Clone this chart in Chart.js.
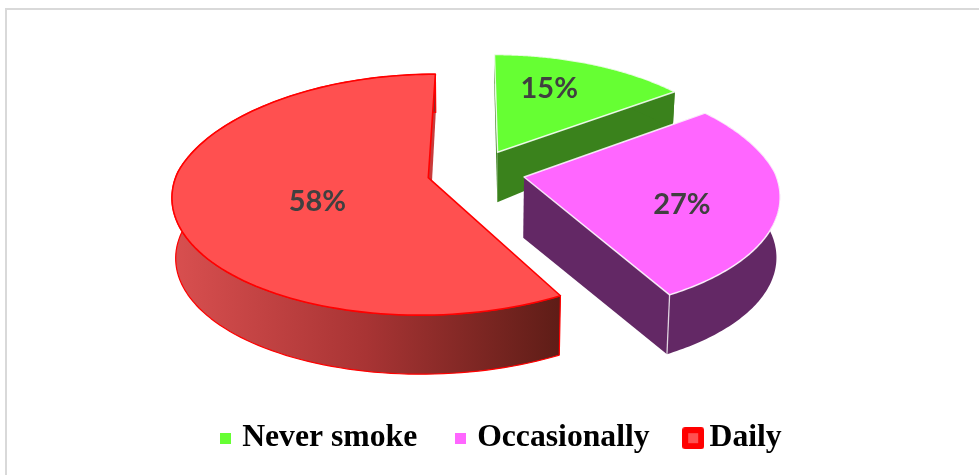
<!DOCTYPE html>
<html>
<head>
<meta charset="utf-8">
<style>
html,body{margin:0;padding:0;background:#fff;overflow:hidden}
#frame{position:absolute;left:5px;top:8px;right:0;bottom:0;border-left:2px solid #d9d9d9;border-top:2px solid #d9d9d9}
#wrap{position:absolute;left:0;top:0;width:979px;height:475px}
</style>
<script src="https://cdn.jsdelivr.net/npm/chart.js@4"></script>
</head>
<body>
<div id="frame"></div>
<div id="wrap"><canvas id="c" width="979" height="475"></canvas></div>
<script>
const categories = ['Never smoke', 'Occasionally', 'Daily'];
const shares = [15, 27, 58];
const topColors = ['#66ff33', '#ff66ff', '#ff5050'];
const wallColors = ['#3a821c', '#632865', '#a33333'];
const edgeColors = ['rgba(255,255,255,0.85)', 'rgba(255,255,255,0.85)', '#ff0000'];
const labelRadius = [0.675, 0.64, 0.465];
const labelTurnDeg = [-5.8, 7.9, -10.6];
const sliceDepth = [0.88, 1, 1];

// 3D view of the pie plane
const VIEW = {cx: 476, cy: 172, rx: 251, ry: 116.5, k: 0.14, kz: 0.012, explode: 0.195};

function project(u, v, z, f) {
  const w = 1 + VIEW.k * v + VIEW.kz * z;
  const wx = w + (v > 0 ? 0.25 * VIEW.k * v : 0);
  const depth = z * f * (61 - 25 * Math.max(0, v));
  return {x: VIEW.cx + VIEW.rx * u / wx, y: VIEW.cy + (-VIEW.ry * v) / w + depth};
}
function planePoint(mid, a, r) {
  return {
    u: VIEW.explode * Math.cos(mid) + r * Math.cos(a),
    v: -VIEW.explode * Math.sin(mid) - r * Math.sin(a)
  };
}
function tracePath(ctx, pts) {
  ctx.beginPath();
  pts.forEach((p, i) => i ? ctx.lineTo(p.x, p.y) : ctx.moveTo(p.x, p.y));
  ctx.closePath();
}
function swatch(fill, stroke) {
  const big = !!stroke;
  const s = big ? 22 : 11;
  const c = document.createElement('canvas');
  c.width = s; c.height = s;
  const g = c.getContext('2d');
  if (big) {
    g.fillStyle = stroke;
    g.beginPath();
    g.roundRect(0, 0, s, s, 3);
    g.fill();
    g.fillStyle = fill;
    g.fillRect(6, 6, 10, 10);
  } else {
    g.fillStyle = fill;
    g.fillRect(0, 0, s, s);
  }
  return c;
}

const pie3d = {
  id: 'pie3d',
  beforeDatasetDraw(chart, args) {
    const ctx = chart.ctx;
    const arcs = args.meta.data;
    arcs.forEach((arc, i) => {
      const start = arc.startAngle, end = arc.endAngle;
      const mid = (start + end) / 2;
      const n = 120;
      const at = (a, r, z) => { const p = planePoint(mid, a, r); return project(p.u, p.v, z, sliceDepth[i]); };
      const arcPts = z => { const out = []; for (let j = 0; j <= n; j++) out.push(at(start + (end - start) * j / n, 1, z)); return out; };
      let wallFill = wallColors[i];
      if (i === 2) {
        const g = ctx.createLinearGradient(175, 0, 558, 0);
        g.addColorStop(0, '#d84f4f');
        g.addColorStop(0.5, '#a83434');
        g.addColorStop(1, '#5f1d17');
        wallFill = g;
      }
      ctx.save();
      ctx.lineJoin = 'round';
      // radial walls
      ctx.fillStyle = i === 2 ? '#c93b3b' : wallColors[i];
      [start, end].forEach(a => {
        tracePath(ctx, [at(a, 0, 0), at(a, 1, 0), at(a, 1, 1), at(a, 0, 1)]);
        ctx.fill();
      });
      // outer wall
      const upper = arcPts(0), lower = arcPts(1).reverse();
      tracePath(ctx, upper.concat(lower));
      ctx.fillStyle = wallFill;
      ctx.fill();
      if (i === 2) {
        ctx.strokeStyle = '#ff0000';
        ctx.lineWidth = 1.2;
        ctx.stroke();
      } else if (i === 1) {
        // seam at the front corner of the wedge
        ctx.strokeStyle = 'rgba(255,255,255,0.75)';
        ctx.lineWidth = 1.3;
        const a0 = at(end, 1, 0), a1 = at(end, 1, 1);
        ctx.beginPath(); ctx.moveTo(a0.x, a0.y); ctx.lineTo(a1.x, a1.y); ctx.stroke();
      }
      // top face
      tracePath(ctx, [at(mid, 0, 0)].concat(upper));
      ctx.fillStyle = topColors[i];
      ctx.fill();
      ctx.strokeStyle = edgeColors[i];
      ctx.lineWidth = i === 2 ? 1.6 : 1.5;
      ctx.stroke();
      ctx.restore();
    });
    return false;
  },
  afterDatasetsDraw(chart) {
    const ctx = chart.ctx;
    const arcs = chart.getDatasetMeta(0).data;
    const total = shares.reduce((a, b) => a + b, 0);
    ctx.save();
    ctx.font = 'bold 29px Lato';
    ctx.fillStyle = '#404040';
    ctx.textAlign = 'center';
    ctx.textBaseline = 'middle';
    arcs.forEach((arc, i) => {
      const mid = (arc.startAngle + arc.endAngle) / 2;
      const a = mid + labelTurnDeg[i] * Math.PI / 180;
      const p = planePoint(mid, a, labelRadius[i]);
      const s = project(p.u, p.v, 0, 1);
      ctx.fillText(Math.round(shares[i] / total * 100) + '%', s.x, s.y + 0.5);
    });
    ctx.restore();
  }
};

new Chart(document.getElementById('c'), {
  type: 'pie',
  data: {
    labels: categories,
    datasets: [{data: shares, backgroundColor: topColors, borderWidth: 0}]
  },
  options: {
    responsive: false,
    devicePixelRatio: 1,
    animation: false,
    layout: {padding: {bottom: 11, left: 28}},
    plugins: {
      tooltip: {enabled: false},
      title: {display: false},
      legend: {
        position: 'bottom',
        align: 'center',
        labels: {
          usePointStyle: true,
          pointStyleWidth: 1,
          boxHeight: 11,
          padding: 43,
          font: {family: '"Liberation Serif"', size: 31.7, weight: 'bold'},
          color: '#000',
          generateLabels() {
            return categories.map((t, i) => ({
              text: t,
              fontColor: '#000',
              hidden: false,
              index: i,
              lineWidth: 0,
              pointStyle: swatch(topColors[i], i === 2 ? '#ff0000' : null)
            }));
          }
        }
      }
    }
  },
  plugins: [pie3d]
});
</script>
</body>
</html>
